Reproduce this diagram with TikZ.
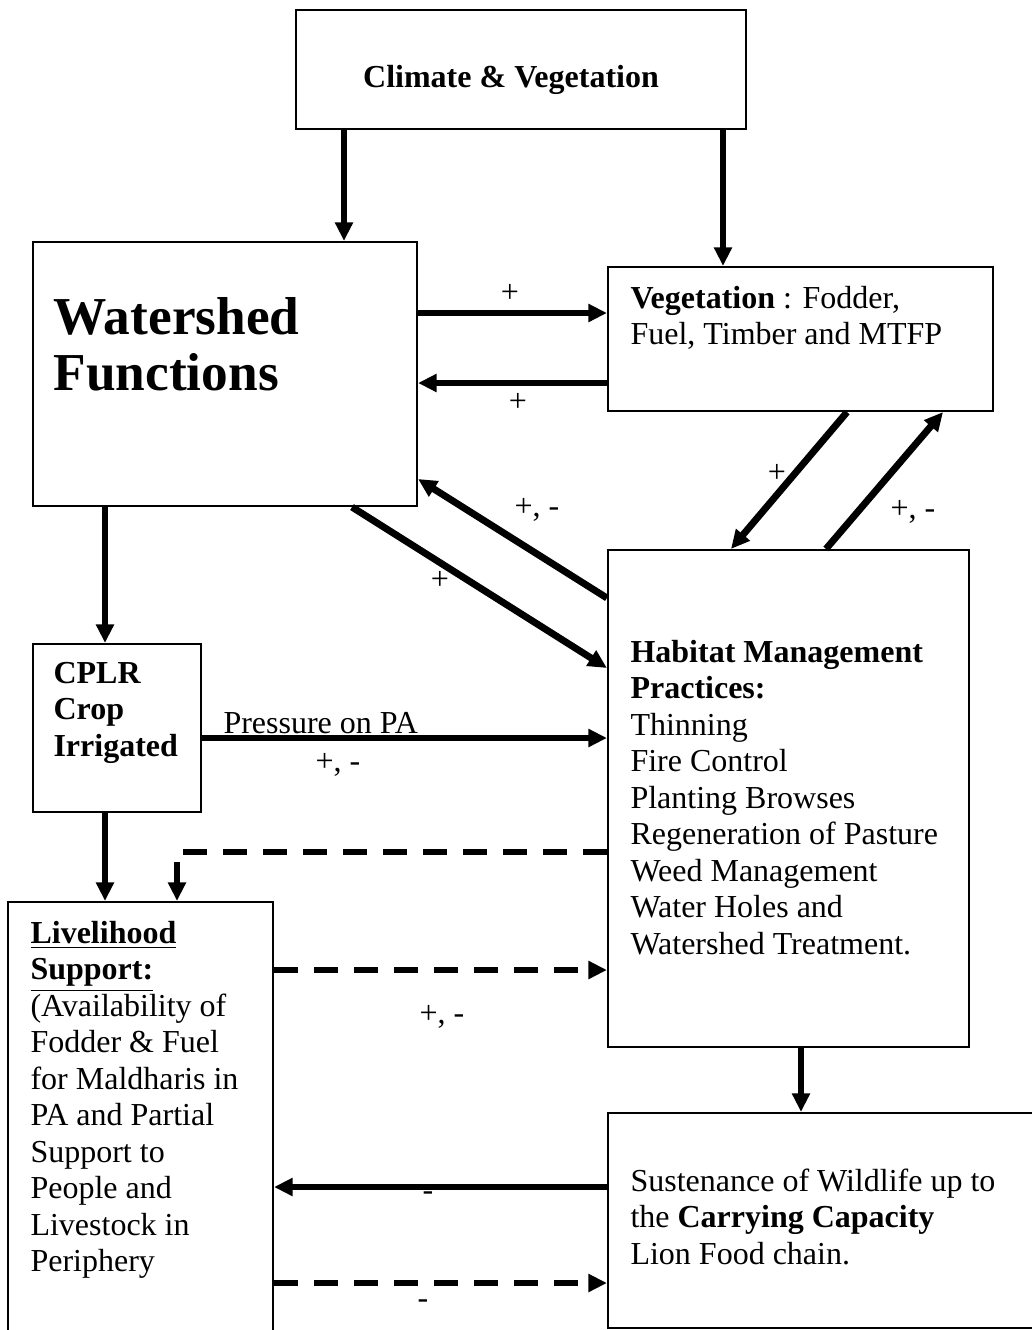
\documentclass[tikz,border=0pt]{standalone}
\usepackage{fontspec}
\setmainfont{Liberation Serif}
\usetikzlibrary{arrows.meta,fit}
\newcommand\diagfont{\fontsize{12}{13.7}\selectfont}
\tikzset{
  box/.style={draw, line width=0.8pt, inner sep=0},
  txt/.style={anchor=base west, align=flush left, text width=150pt, inner sep=0, font=\diagfont},
  sgn/.style={inner sep=0, font=\diagfont},
  arr/.style={line width=2.6pt, -{Triangle[length=7pt,width=6.5pt]}},
  darr/.style={arr, dash pattern=on 9pt off 6pt}
}
\begin{document}
\begin{tikzpicture}[x=0.375pt, y=-0.375pt]
\useasboundingbox (0,0) rectangle (1032,1330);
\fill[white] (0,0) rectangle (1032,1330);
\clip (0,0) rectangle (1032,1330);
% boxes
\node[box, fit={(296,10) (746,129)}] (climate) {};
\node[box, fit={(33,242) (417,506)}] (watershed) {};
\node[box, fit={(608,267) (993,411)}] (veg) {};
\node[box, fit={(608,550) (969,1047)}] (habitat) {};
\node[box, fit={(33,644) (201,812)}] (cplr) {};
\node[box, fit={(8,902) (273,1345)}] (liveli) {};
\node[box, fit={(608,1113) (1045,1328)}] (susten) {};
% texts
\node[anchor=base, inner sep=0, font=\diagfont\bfseries] (climtxt) at (511,87) {Climate \& Vegetation};
\node[txt, font=\fontsize{20}{21}\selectfont\bfseries] (wstxt) at (53,334) {Watershed\\Functions};
\node[txt] (vegtxt) at (630,308) {\textbf{Vegetation} : Fodder,\\Fuel, Timber and MTFP};
\node[txt, font=\diagfont\bfseries] (cplrtxt) at (53,683) {CPLR\\Crop\\Irrigated};
\node[txt] (habtxt) at (630,662) {\textbf{Habitat Management}\\\textbf{Practices:}\\Thinning\\Fire Control\\Planting Browses\\Regeneration of Pasture\\Weed Management\\Water Holes and\\Watershed Treatment.};
\node[txt] (livtxt) at (30,943) {\underline{\textbf{Livelihood}}\\\underline{\textbf{Support:}}\\(Availability of\\Fodder \& Fuel\\for Maldharis in\\PA and Partial\\Support to\\People and\\Livestock in\\Periphery};
\node[txt] (sustxt) at (630,1191) {Sustenance of Wildlife up to\\the \textbf{Carrying Capacity}\\Lion Food chain.};
% connectors
\draw[arr] (climate.south -| 344,0) -- (watershed.north -| 344,0);
\draw[arr] (climate.south -| 723,0) -- (veg.north -| 723,0);
\draw[arr] (watershed.east |- 0,313) -- (veg.west |- 0,313);
\draw[arr] (veg.west |- 0,383) -- (watershed.east |- 0,383);
\draw[arr] (veg.south -| 847,0) -- (habitat.north -| 731,0);
\draw[arr] (habitat.north -| 826,0) -- (veg.south -| 943,0);
\draw[arr] (habitat.west |- 0,598) -- (watershed.east |- 0,479);
\draw[arr] (watershed.south -| 352,0) -- (habitat.west |- 0,668);
\draw[arr] (watershed.south -| 105,0) -- (cplr.north -| 105,0);
\draw[arr] (cplr.east |- 0,738) -- (habitat.west |- 0,738);
\draw[arr] (cplr.south -| 105,0) -- (liveli.north -| 105,0);
\draw[darr] (habitat.west |- 0,852) -| (liveli.north -| 177,0);
\draw[darr] (liveli.east |- 0,970) -- (habitat.west |- 0,970);
\draw[arr] (habitat.south -| 801,0) -- (susten.north -| 801,0);
\draw[arr] (susten.west |- 0,1187) -- (liveli.east |- 0,1187);
\draw[darr] (liveli.east |- 0,1283) -- (susten.west |- 0,1283);
% signs
\node[sgn] (s1) at (510,293) {+};
\node[sgn] (s2) at (518,402) {+};
\node[sgn] (s3) at (777,473) {+};
\node[sgn] (s4) at (913,512) {+, -};
\node[sgn] (s5) at (537,510) {+, -};
\node[sgn] (s6) at (440,580) {+};
\node[anchor=base west, inner sep=0, font=\diagfont] (press) at (223,733) {Pressure on PA};
\node[sgn] (s7) at (338,765) {+, -};
\node[sgn] (s8) at (442,1017) {+, -};
\node[sgn] (s9) at (428,1196) {-};
\node[sgn] (s10) at (423,1304) {-};
\end{tikzpicture}
\end{document}
